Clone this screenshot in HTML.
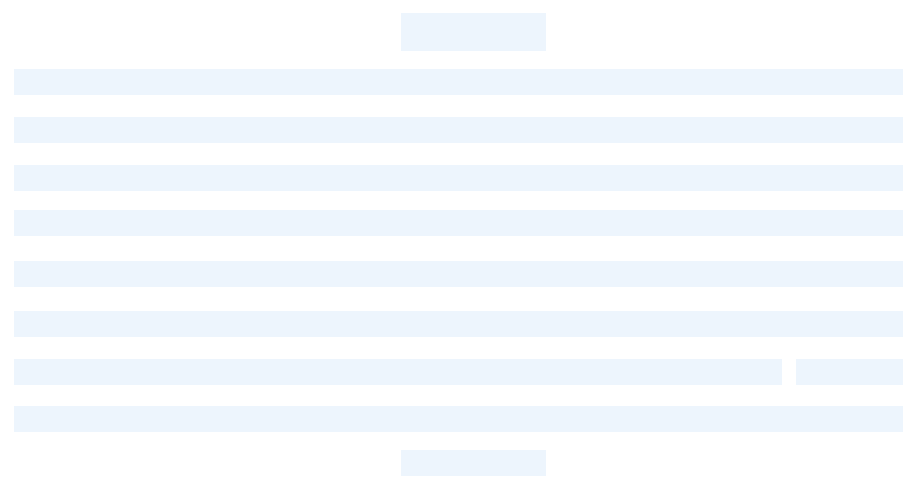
<!DOCTYPE html>
<html><head><meta charset="utf-8"><style>
html,body{margin:0;padding:0;background:#fff;width:924px;height:496px;overflow:hidden;font-family:"Liberation Sans",sans-serif}
.s{position:absolute;background:#edf5fd}
</style></head><body>
<div style="position:relative;width:924px;height:496px">
<div class="s" style="left:401px;top:13px;width:145px;height:38px"></div>
<div class="s" style="left:14px;top:69px;width:889px;height:26px"></div>
<div class="s" style="left:14px;top:117px;width:889px;height:26px"></div>
<div class="s" style="left:14px;top:165px;width:889px;height:26px"></div>
<div class="s" style="left:14px;top:210px;width:889px;height:26px"></div>
<div class="s" style="left:14px;top:261px;width:889px;height:26px"></div>
<div class="s" style="left:14px;top:311px;width:889px;height:26px"></div>
<div class="s" style="left:14px;top:359px;width:768px;height:26px"></div>
<div class="s" style="left:796px;top:359px;width:107px;height:26px"></div>
<div class="s" style="left:14px;top:406px;width:889px;height:26px"></div>
<div class="s" style="left:401px;top:450px;width:145px;height:26px"></div>
</div>
</body></html>
